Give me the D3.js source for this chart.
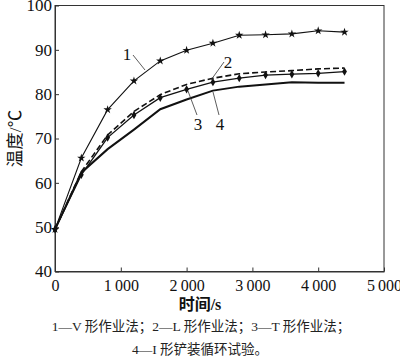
<!DOCTYPE html>
<html>
<head>
<meta charset="utf-8">
<script src="https://cdn.jsdelivr.net/npm/d3@7"></script>
<style>
  body { margin: 0; background: #fff; }
  text { font-family: "Liberation Serif", "Noto Sans CJK SC", serif; }
</style>
</head>
<body>
<svg width="400" height="362"></svg>
<script>
const xTicks = [0, 1000, 2000, 3000, 4000, 5000];
const yTicks = [40, 50, 60, 70, 80, 90, 100];

// time in s
const t1 = [0, 400, 800, 1200, 1600, 2000, 2400, 2800, 3200, 3600, 4000, 4400];
const s1 = [49.5, 65.6, 76.5, 83, 87.5, 89.9, 91.5, 93.3, 93.4, 93.6, 94.3, 94];
const t2 = [0, 400, 800, 1200, 1600, 2000, 2400, 2800, 3200, 3600, 4000, 4400];
const s2 = [49.5, 62.5, 70.8, 76.1, 79.9, 82.2, 83.6, 84.6, 85, 85.3, 85.7, 85.9];
const t3 = [0, 400, 800, 1200, 1600, 2000, 2400, 2800, 3200, 3600, 4000, 4400];
const s3 = [49.5, 61.8, 70.2, 75.3, 79.2, 81.1, 82.7, 83.6, 84.3, 84.5, 84.7, 85.1];
const t4 = [0, 400, 800, 1200, 1600, 2000, 2400, 2800, 3200, 3600, 4000, 4400];
const s4 = [49.5, 62.3, 67.6, 72, 76.6, 78.8, 80.8, 81.7, 82.2, 82.7, 82.6, 82.6];

const svg = d3.select('svg');
const x = d3.scaleLinear().domain([0, 5000]).range([55, 384]);
const y = d3.scaleLinear().domain([40, 100]).range([271.5, 5.5]);

const fmt = d => d >= 1000 ? String(d).replace(/(\d)(\d{3})$/, '$1\u2009$2') : String(d);

// frame
svg.append('rect')
  .attr('x', x(0)).attr('y', y(100))
  .attr('width', x(5000) - x(0)).attr('height', y(40) - y(100))
  .attr('fill', 'none').attr('stroke', '#333').attr('stroke-width', 1);

svg.append('g')
  .attr('transform', `translate(0,${y(40)})`)
  .call(d3.axisBottom(x).tickValues(xTicks).tickFormat(fmt).tickSizeInner(-4).tickSizeOuter(0).tickPadding(8))
  .call(g => g.select('.domain').attr('stroke', '#333'))
  .call(g => g.selectAll('.tick line').attr('stroke', '#333'))
  .call(g => g.selectAll('text').attr('font-size', 16).attr('fill', '#111')
    .attr('font-family', '"Liberation Serif", serif'));

svg.append('g')
  .attr('transform', `translate(${x(0)},0)`)
  .call(d3.axisLeft(y).tickValues(yTicks).tickSizeInner(-4).tickSizeOuter(0).tickPadding(3))
  .call(g => g.select('.domain').attr('stroke', '#333'))
  .call(g => g.selectAll('.tick line').attr('stroke', '#333'))
  .call(g => g.selectAll('text').attr('font-size', 17).attr('fill', '#111')
    .attr('font-family', '"Liberation Serif", serif'));

const line = d3.line().x(d => x(d[0])).y(d => y(d[1]));
const zip = (a, b) => a.map((v, i) => [v, b[i]]);

const series = [
  { t: t1, v: s1, w: 1.1, dash: null },
  { t: t2, v: s2, w: 1.6, dash: '6,3' },
  { t: t3, v: s3, w: 1.3, dash: null },
  { t: t4, v: s4, w: 2, dash: null }
];

series.forEach(s => {
  svg.append('path')
    .datum(zip(s.t, s.v))
    .attr('d', line)
    .attr('fill', 'none')
    .attr('stroke', '#111')
    .attr('stroke-width', s.w)
    .attr('stroke-dasharray', s.dash);
});

// markers
svg.append('g').selectAll('path')
  .data(zip(t1, s1))
  .join('path')
  .attr('transform', d => `translate(${x(d[0])},${y(d[1])})`)
  .attr('d', d3.symbol(d3.symbolStar, 22))
  .attr('fill', '#111');

svg.append('g').selectAll('path')
  .data(zip(t3, s3))
  .join('path')
  .attr('transform', d => `translate(${x(d[0])},${y(d[1])})`)
  .attr('d', d3.symbol(d3.symbolDiamond, 20))
  .attr('fill', '#111');

// curve labels with leader lines
const labels = [
  { txt: '1', tx: 127, ty: 60, l: [[133, 55], [145, 70]] },
  { txt: '2', tx: 228, ty: 68, l: [[224, 62], [211, 80]] },
  { txt: '3', tx: 198, ty: 130, l: [[197, 115], [188, 91]] },
  { txt: '4', tx: 220, ty: 130, l: [[219, 115], [213, 92]] }
];
labels.forEach(d => {
  svg.append('line')
    .attr('x1', d.l[0][0]).attr('y1', d.l[0][1])
    .attr('x2', d.l[1][0]).attr('y2', d.l[1][1])
    .attr('stroke', '#333').attr('stroke-width', 0.8);
  svg.append('text')
    .attr('x', d.tx).attr('y', d.ty)
    .attr('text-anchor', 'middle')
    .attr('font-size', 17).attr('fill', '#111')
    .attr('font-family', '"Liberation Serif", serif')
    .text(d.txt);
});

// axis titles
svg.append('text')
  .attr('transform', `translate(21,${(y(40) + y(100)) / 2}) rotate(-90)`)
  .attr('text-anchor', 'middle')
  .attr('font-size', 17.5).attr('fill', '#111')
  .text('温度/℃');

svg.append('text')
  .attr('x', 200).attr('y', 310)
  .attr('text-anchor', 'middle')
  .attr('font-size', 16).attr('font-weight', 'bold').attr('fill', '#111')
  .text('时间/s');

svg.append('text')
  .attr('x', 201).attr('y', 331)
  .attr('text-anchor', 'middle')
  .attr('font-size', 13.5).attr('fill', '#222')
  .text('1—V 形作业法；2—L 形作业法；3—T 形作业法；');

svg.append('text')
  .attr('x', 200).attr('y', 354)
  .attr('text-anchor', 'middle')
  .attr('font-size', 13.5).attr('fill', '#222')
  .text('4—I 形铲装循环试验。');
</script>
</body>
</html>
